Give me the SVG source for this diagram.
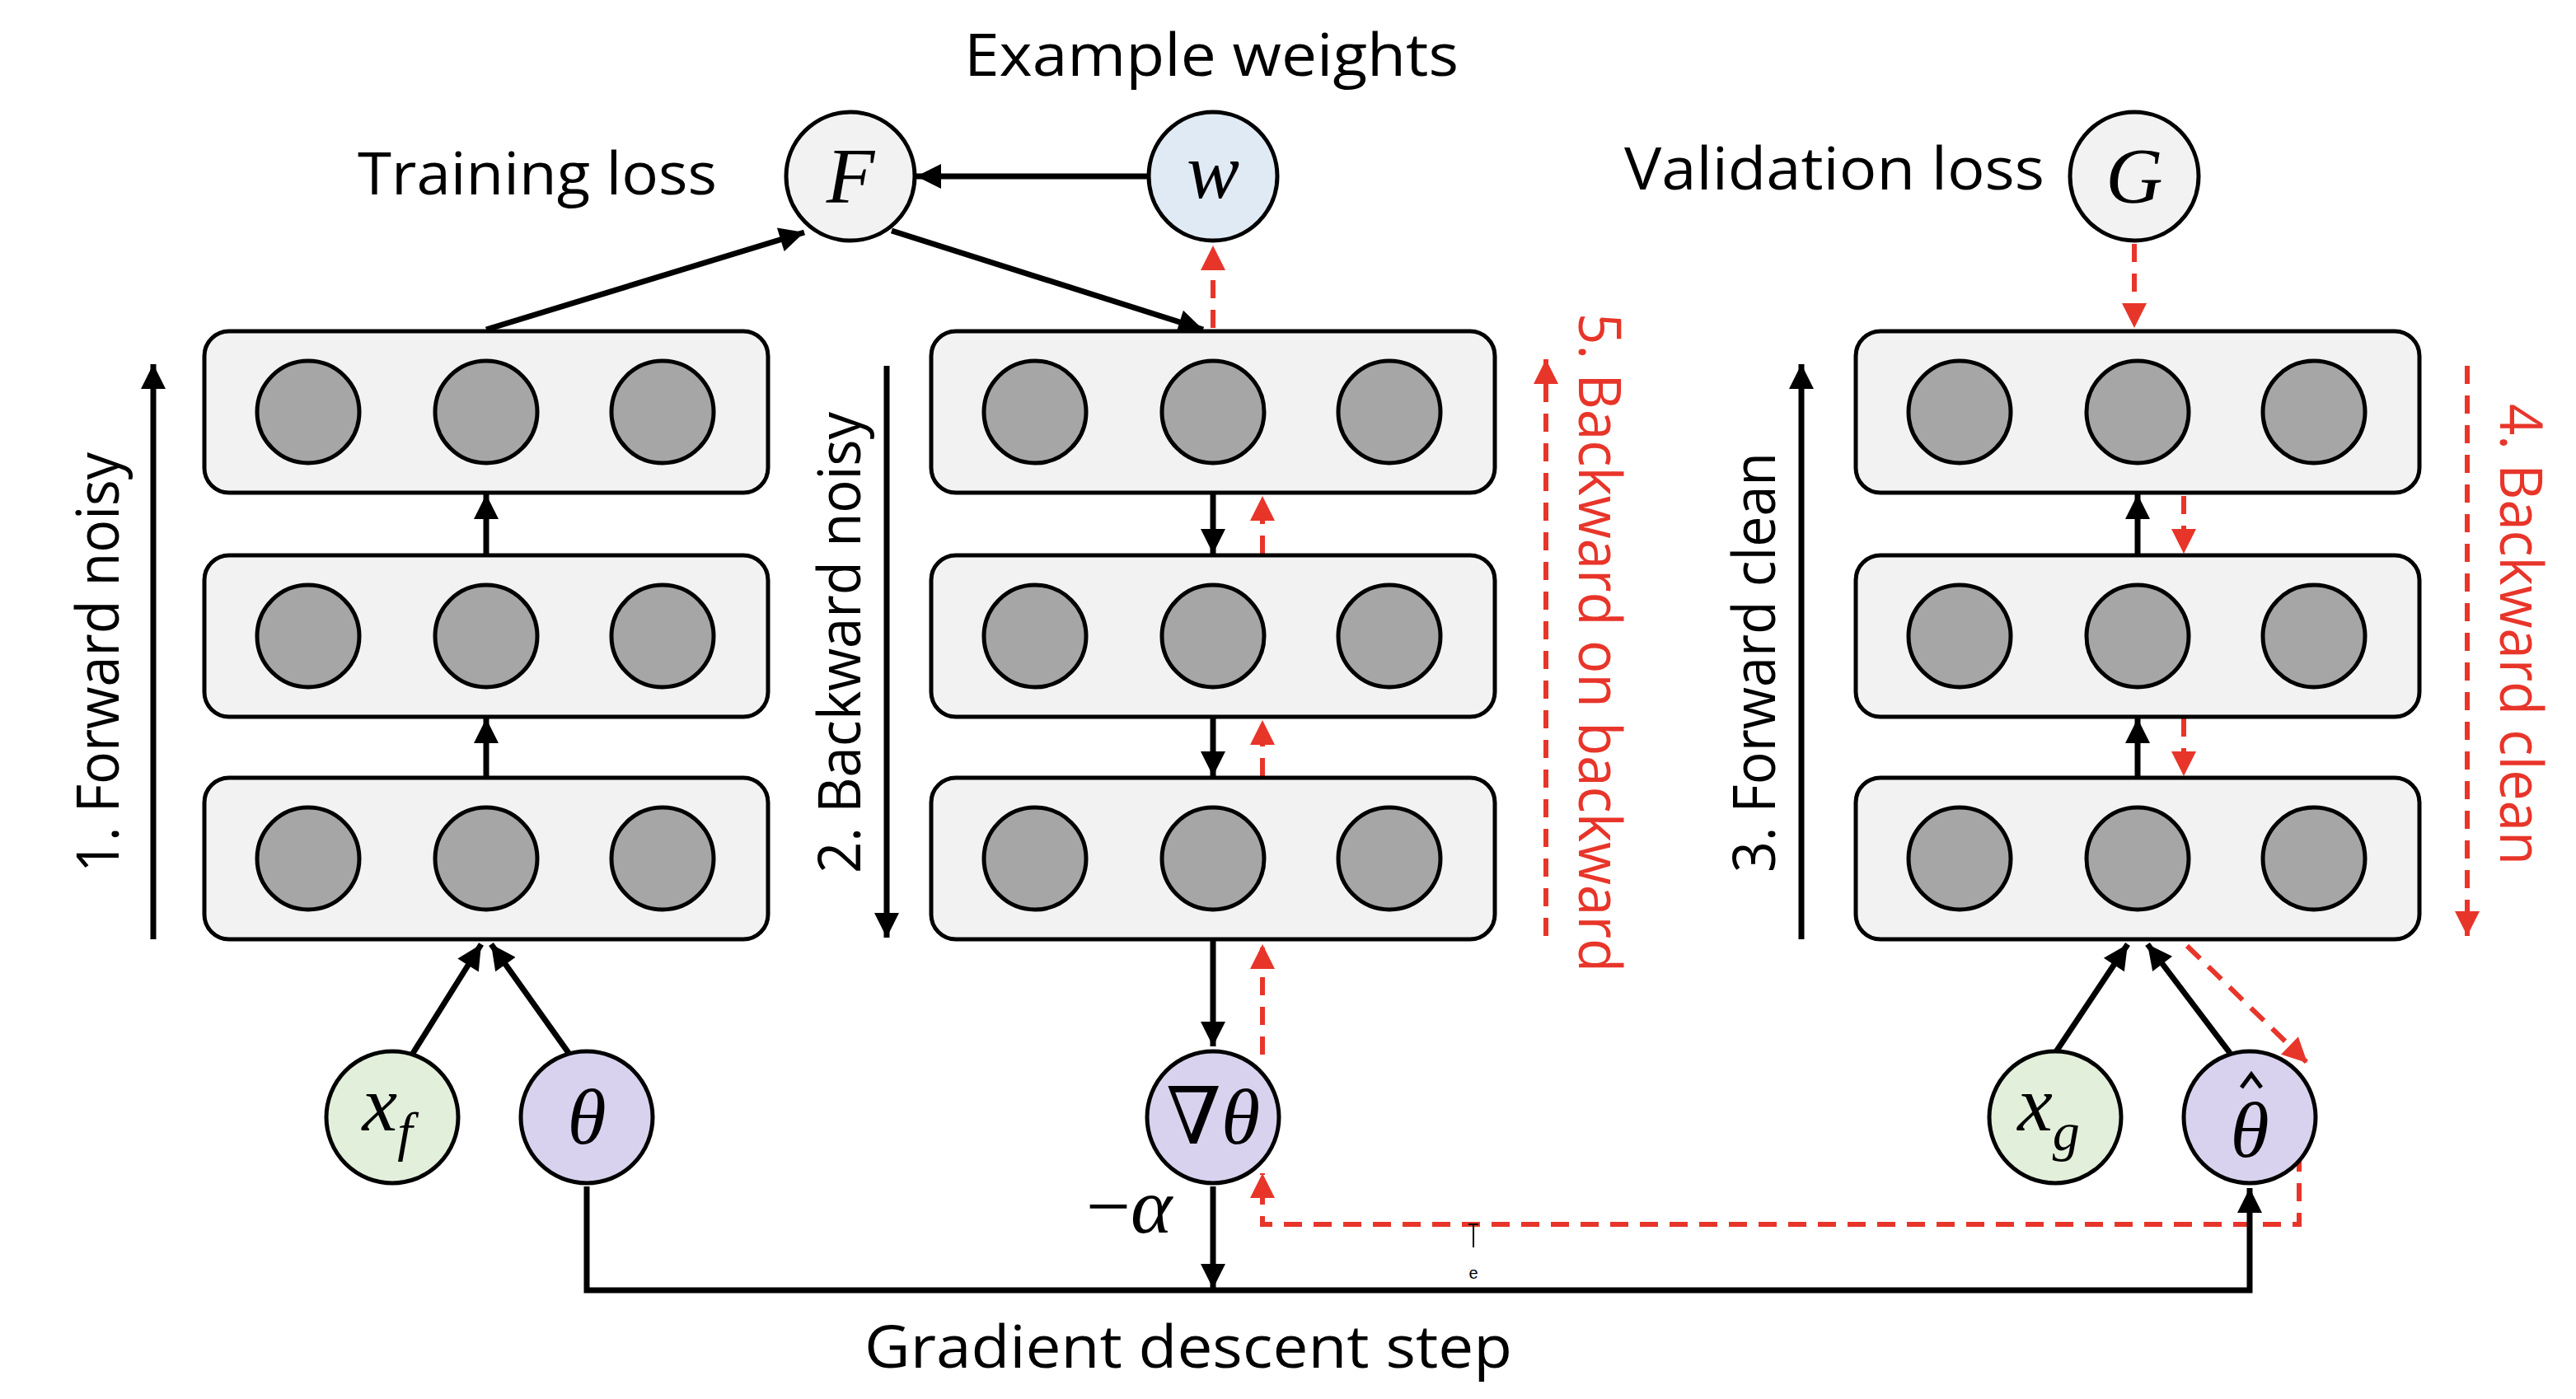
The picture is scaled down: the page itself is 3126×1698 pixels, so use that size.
<svg xmlns="http://www.w3.org/2000/svg" width="3126" height="1698" viewBox="0 0 3126 1698">
<style>
.box{fill:#f2f2f2;stroke:#000;stroke-width:5}
.n{fill:#a6a6a6;stroke:#000;stroke-width:5}
.lbl{font-family:"Open Sans","Liberation Sans",sans-serif;font-size:72px;fill:#000}
.red{fill:#e8352a}
.m{font-family:"Liberation Serif","DejaVu Serif",serif;font-style:italic;font-size:96px;text-anchor:middle;fill:#000}
.k{fill:none;stroke:#000;stroke-width:7}
.r{fill:none;stroke:#e8352a;stroke-width:6;stroke-dasharray:22 14}
</style>
<defs>
<marker id="ab" viewBox="0 0 10 10" refX="10" refY="5" markerWidth="32" markerHeight="30" markerUnits="userSpaceOnUse" orient="auto"><path d="M0,0L10,5L0,10z" fill="#000"/></marker>
<marker id="ar" viewBox="0 0 10 10" refX="10" refY="5" markerWidth="32" markerHeight="30" markerUnits="userSpaceOnUse" orient="auto"><path d="M0,0L10,5L0,10z" fill="#e8352a"/></marker>
<g id="layer"><rect class="box" x="0" y="0" width="684" height="196" rx="30"/><circle class="n" cx="126" cy="98" r="62"/><circle class="n" cx="342" cy="98" r="62"/><circle class="n" cx="556" cy="98" r="62"/></g>
</defs>
<g id="connectors">
<line class="k" x1="500" y1="1280" x2="584" y2="1146" marker-end="url(#ab)"/>
<line class="k" x1="690" y1="1278" x2="596" y2="1146" marker-end="url(#ab)"/>
<line class="k" x1="590" y1="944" x2="590" y2="872" marker-end="url(#ab)"/>
<line class="k" x1="590" y1="674" x2="590" y2="600" marker-end="url(#ab)"/>
<line class="k" x1="186" y1="1140" x2="186" y2="442" marker-end="url(#ab)"/>
<line class="k" x1="590" y1="400" x2="976" y2="282" marker-end="url(#ab)"/>
<line class="k" x1="1392" y1="214" x2="1112" y2="214" marker-end="url(#ab)"/>
<line class="k" x1="1082" y1="280" x2="1460" y2="400" marker-end="url(#ab)"/>
<line class="r" x1="1472" y1="398" x2="1472" y2="298" marker-end="url(#ar)"/>
<line class="k" x1="1076" y1="444" x2="1076" y2="1138" marker-end="url(#ab)"/>
<line class="k" x1="1472" y1="598" x2="1472" y2="672" marker-end="url(#ab)"/>
<line class="k" x1="1472" y1="870" x2="1472" y2="942" marker-end="url(#ab)"/>
<line class="r" x1="1532" y1="672" x2="1532" y2="602" marker-end="url(#ar)"/>
<line class="r" x1="1532" y1="942" x2="1532" y2="874" marker-end="url(#ar)"/>
<line class="k" x1="1472" y1="1140" x2="1472" y2="1270" marker-end="url(#ab)"/>
<line class="r" x1="1532" y1="1280" x2="1532" y2="1146" marker-end="url(#ar)"/>
<path class="r" d="M2790,1400V1486H1532V1424" marker-end="url(#ar)"/>
<line class="r" x1="2654" y1="1148" x2="2800" y2="1290" marker-end="url(#ar)"/>
<line class="r" x1="1876" y1="1136" x2="1876" y2="436" marker-end="url(#ar)"/>
<path class="k" d="M712,1440V1566H2730V1442" marker-end="url(#ab)"/>
<line class="k" x1="1472" y1="1440" x2="1472" y2="1564" marker-end="url(#ab)"/>
<line class="k" x1="2186" y1="1140" x2="2186" y2="442" marker-end="url(#ab)"/>
<line class="k" x1="2594" y1="944" x2="2594" y2="872" marker-end="url(#ab)"/>
<line class="k" x1="2594" y1="674" x2="2594" y2="600" marker-end="url(#ab)"/>
<line class="r" x1="2650" y1="602" x2="2650" y2="672" marker-end="url(#ar)"/>
<line class="r" x1="2650" y1="872" x2="2650" y2="942" marker-end="url(#ar)"/>
<line class="r" x1="2590" y1="296" x2="2590" y2="398" marker-end="url(#ar)"/>
<line class="r" x1="2994" y1="444" x2="2994" y2="1136" marker-end="url(#ar)"/>
<line class="k" x1="2494" y1="1278" x2="2582" y2="1146" marker-end="url(#ab)"/>
<line class="k" x1="2706" y1="1278" x2="2606" y2="1146" marker-end="url(#ab)"/>
<path d="M1782,1486H1794M1788,1486V1514" stroke="#000" stroke-width="2" fill="none"/>
<text x="1788" y="1552" font-family="Liberation Sans,sans-serif" font-size="20" text-anchor="middle">e</text>
</g>
<g id="col-left"><use href="#layer" x="248" y="402"/><use href="#layer" x="248" y="674"/><use href="#layer" x="248" y="944"/></g>
<g id="col-mid"><use href="#layer" x="1130" y="402"/><use href="#layer" x="1130" y="674"/><use href="#layer" x="1130" y="944"/></g>
<g id="col-right"><use href="#layer" x="2252" y="402"/><use href="#layer" x="2252" y="674"/><use href="#layer" x="2252" y="944"/></g>
<g id="F"><circle cx="1032" cy="214" r="78" fill="#f2f2f2" stroke="#000" stroke-width="5"/><text class="m" x="1032" y="246">F</text></g>
<g id="w"><circle cx="1472" cy="214" r="78" fill="#dfeaf5" stroke="#000" stroke-width="5"/><text class="m" x="1472" y="240">w</text></g>
<g id="G"><circle cx="2590" cy="214" r="78" fill="#f2f2f2" stroke="#000" stroke-width="5"/><text class="m" x="2590" y="246">G</text></g>
<g id="xf"><circle cx="476" cy="1356" r="80" fill="#e2efda" stroke="#000" stroke-width="5"/><text class="m" x="470" y="1372">x<tspan font-size="66" dy="24">f</tspan></text></g>
<g id="theta"><circle cx="712" cy="1356" r="80" fill="#d9d2ee" stroke="#000" stroke-width="5"/><text class="m" x="712" y="1388">θ</text></g>
<g id="grad"><circle cx="1472" cy="1356" r="80" fill="#d9d2ee" stroke="#000" stroke-width="5"/><text class="m" x="1472" y="1388"><tspan font-style="normal">∇</tspan>θ</text></g>
<g id="xg"><circle cx="2494" cy="1356" r="80" fill="#e2efda" stroke="#000" stroke-width="5"/><text class="m" x="2486" y="1372">x<tspan font-size="66" dy="24">g</tspan></text></g>
<g id="thetahat"><circle cx="2730" cy="1356" r="80" fill="#d9d2ee" stroke="#000" stroke-width="5"/><text class="m" x="2730" y="1404">θ</text><path d="M2720,1320L2732,1304L2744,1320" fill="none" stroke="#000" stroke-width="5"/></g>
<g id="labels">
<text class="lbl" x="1470" y="92" text-anchor="middle" textLength="600" lengthAdjust="spacingAndGlyphs">Example weights</text>
<text class="lbl" x="652" y="236" text-anchor="middle" textLength="436" lengthAdjust="spacingAndGlyphs">Training loss</text>
<text class="lbl" x="2226" y="230" text-anchor="middle" textLength="510" lengthAdjust="spacingAndGlyphs">Validation loss</text>
<text class="lbl" x="1442" y="1660" text-anchor="middle" textLength="786" lengthAdjust="spacingAndGlyphs">Gradient descent step</text>
<text class="m" x="1370" y="1496" font-size="92"><tspan font-style="normal">−</tspan>α</text>
<text class="lbl" transform="translate(144,804) rotate(-90)" text-anchor="middle" textLength="510" lengthAdjust="spacingAndGlyphs">1. Forward noisy</text>
<text class="lbl" transform="translate(1044,780) rotate(-90)" text-anchor="middle" textLength="560" lengthAdjust="spacingAndGlyphs">2. Backward noisy</text>
<text class="lbl" transform="translate(2154,804) rotate(-90)" text-anchor="middle" textLength="510" lengthAdjust="spacingAndGlyphs">3. Forward clean</text>
<text class="lbl red" transform="translate(1916,780) rotate(90)" text-anchor="middle" textLength="800" lengthAdjust="spacingAndGlyphs">5. Backward on backward</text>
<text class="lbl red" transform="translate(3034,770) rotate(90)" text-anchor="middle" textLength="560" lengthAdjust="spacingAndGlyphs">4. Backward clean</text>
</g>
</svg>
